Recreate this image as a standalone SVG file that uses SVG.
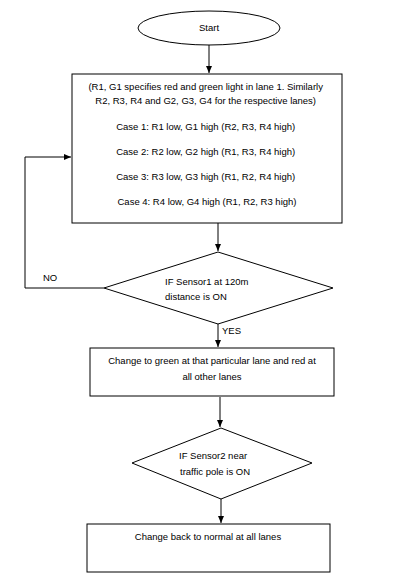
<svg xmlns="http://www.w3.org/2000/svg" width="405" height="585" viewBox="0 0 405 585">
<style>
.s{fill:#fff;stroke:#000;stroke-width:1}
.t{font-family:"Liberation Sans",Arial,sans-serif;font-size:9.5px;fill:#000}
.c{stroke:#000;stroke-width:1;fill:none}
</style>
<defs>
<marker id="a" markerWidth="8" markerHeight="8" refX="7" refY="4" orient="auto" markerUnits="userSpaceOnUse">
<path d="M0,1 L7,4 L0,7 Z" fill="#000"/>
</marker>
</defs>
<rect width="405" height="585" fill="#fff"/>
<g id="connectors">
<line class="c" x1="209" y1="45" x2="209" y2="73" marker-end="url(#a)"/>
<line class="c" x1="218" y1="223" x2="218" y2="251" marker-end="url(#a)"/>
<polyline class="c" points="104,288 25,288 25,157 71,157" marker-end="url(#a)"/>
<line class="c" x1="218" y1="324" x2="218" y2="347" marker-end="url(#a)"/>
<line class="c" x1="220" y1="397" x2="220" y2="427" marker-end="url(#a)"/>
<line class="c" x1="221" y1="499" x2="221" y2="523" marker-end="url(#a)"/>
<text class="t" x="43" y="281">NO</text>
<text class="t" x="222" y="334">YES</text>
</g>
<g id="start">
<ellipse class="s" cx="209" cy="28" rx="71" ry="17"/>
<text class="t" x="209" y="31" text-anchor="middle">Start</text>
</g>
<g id="cases">
<rect class="s" x="72" y="74" width="270" height="149"/>
<text class="t" text-anchor="middle">
<tspan x="207" y="90">(R1, G1 specifies red and green light in lane 1. Similarly</tspan>
<tspan x="207" y="104">R2, R3, R4 and G2, G3, G4 for the respective lanes)</tspan>
<tspan x="207" y="130">Case 1: R1 low, G1 high (R2, R3, R4 high)</tspan>
<tspan x="207" y="155">Case 2: R2 low, G2 high (R1, R3, R4 high)</tspan>
<tspan x="207" y="180">Case 3: R3 low, G3 high (R1, R2, R4 high)</tspan>
<tspan x="207" y="205">Case 4: R4 low, G4 high (R1, R2, R3 high)</tspan>
</text>
</g>
<g id="sensor1">
<polygon class="s" points="218,252 333,288 218,324 104,288"/>
<text class="t"><tspan x="165" y="285">IF Sensor1 at 120m</tspan><tspan x="165" y="300">distance is ON</tspan></text>
</g>
<g id="green">
<rect class="s" x="90" y="348" width="244" height="48"/>
<text class="t" text-anchor="middle"><tspan x="212" y="364">Change to green at that particular lane and red at</tspan><tspan x="212" y="380">all other lanes</tspan></text>
</g>
<g id="sensor2">
<polygon class="s" points="221,428 312,463 221,499 132,463"/>
<text class="t"><tspan x="179" y="459">IF Sensor2 near</tspan><tspan x="180" y="475">traffic pole is ON</tspan></text>
</g>
<g id="normal">
<rect class="s" x="87" y="524" width="243" height="48"/>
<text class="t" x="208" y="540" text-anchor="middle">Change back to normal at all lanes</text>
</g>
</svg>
